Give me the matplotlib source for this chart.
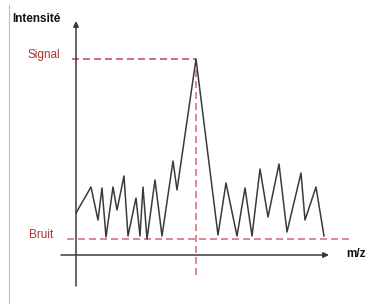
import matplotlib
matplotlib.use("Agg")
import matplotlib.pyplot as plt

mz = [76, 91, 98, 102, 106, 113, 117, 124, 128, 136, 140, 143, 147, 155, 162,
      173, 177, 196, 218, 226, 237, 245, 252, 260, 268, 279, 287, 301, 305, 316, 324]
ypix = [213, 187, 220, 188, 237, 187, 210, 176, 236, 198, 236, 187, 239, 180, 236,
        161, 190, 59, 235, 183, 236, 188, 236, 169, 217, 164, 232, 173, 220, 187, 236]
intensity = [304 - v for v in ypix]

signal_level = 304 - 59
noise_level = 304 - 239
peak_x = 196
labels = {"y": "Intensité", "x": "m/z", "signal": "Signal", "noise": "Bruit"}

W, H = 377, 304
fig = plt.figure(figsize=(W / 100, H / 100), dpi=100)
ax = fig.add_axes([0, 0, 1, 1])
ax.set_xlim(0, W)
ax.set_ylim(0, H)
ax.axis("off")

red = "#c8424f"
dark = "#3a3a3a"
font = ["Liberation Sans", "DejaVu Sans"]

# left border line
ax.plot([8.5, 8.5], [0, 299], color="#bbbbbb", lw=0.8)

# axes with arrows
ax.annotate("", xy=(76, 304 - 21), xytext=(76, 304 - 286),
            arrowprops=dict(arrowstyle="-|>", color=dark, lw=1.1, mutation_scale=8,
                            shrinkA=0, shrinkB=0))
ax.annotate("", xy=(329, 304 - 255), xytext=(61, 304 - 255),
            arrowprops=dict(arrowstyle="-|>", color=dark, lw=1.1, mutation_scale=8,
                            shrinkA=0, shrinkB=0))

# dashed reference lines
dash = (0, (4.6, 2.6))
ax.plot([72, peak_x], [signal_level, signal_level], color=red, lw=1.1, linestyle=dash)
ax.plot([67, 351], [noise_level, noise_level], color=red, lw=1.1, linestyle=dash, alpha=0.8)
ax.plot([peak_x, peak_x], [signal_level, 304 - 276], color=red, lw=1.1, linestyle=dash, alpha=0.8)

# spectrum
ax.plot(mz, intensity, color=dark, lw=1.1)

# texts
ax.text(12, 304 - 19, labels["y"], fontsize=8.5, fontweight="bold", family=font,
        ha="left", va="center", color="#111111")
ax.text(346, 304 - 254, labels["x"], fontsize=8.5, fontweight="bold", family=font,
        ha="left", va="center", color="#111111")
ax.text(27, 304 - 55, labels["signal"], fontsize=8.5, family=font,
        ha="left", va="center", color="#b03030")
ax.text(29, 304 - 235, labels["noise"], fontsize=8.5, family=font,
        ha="left", va="center", color="#b03030")

fig.savefig("out.png", dpi=100)
